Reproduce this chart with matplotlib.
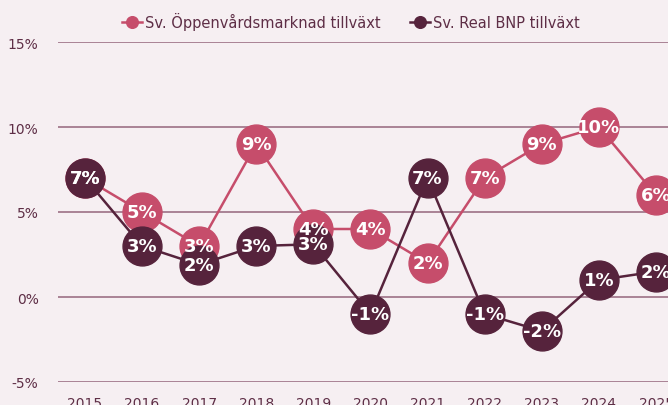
import numpy as np
import matplotlib
matplotlib.use("Agg")
import matplotlib.pyplot as plt

# data
years = [2015, 2016, 2017, 2018, 2019, 2020, 2021, 2022, 2023, 2024, 2025]
oppenvard = [7.0, 5.0, 3.0, 9.0, 4.0, 4.0, 2.0, 7.0, 9.0, 10.0, 6.0]
bnp = [7.0, 3.0, 1.9, 3.0, 3.1, -1.0, 7.0, -1.0, -2.0, 1.0, 1.5]
yticks = [-5, 0, 5, 10, 15]

bg = "#f6eff2"
pink = "#c64d6b"
dark = "#56233c"
grid_c = "#9c7085"
txt_c = "#5e2e46"
narrow = ["Liberation Sans Narrow", "DejaVu Sans"]

fig = plt.figure(figsize=(6.68, 4.06), dpi=100, facecolor=bg)
ax = fig.add_axes([58 / 668, 1 - 383 / 406, 1 - 58 / 668, (383 - 43) / 406])
ax.set_facecolor(bg)

for s in ax.spines.values():
    s.set_visible(False)

ax.set_ylim(-5, 15)
ax.set_xlim(2014.53, 2025.21)
ax.set_yticks(yticks)
ax.set_yticklabels([f"{t}%" for t in yticks], family=narrow)
ax.set_xticks(years)
ax.set_xticklabels([str(y) for y in years], family=narrow)
ax.tick_params(length=0, colors=txt_c, labelsize=10)
ax.tick_params(axis="y", pad=14)
ax.tick_params(axis="x", pad=10)
ax.grid(axis="y", color=grid_c, linewidth=1.2)
ax.set_axisbelow(True)

ms = 28
ax.plot(years, oppenvard, color=pink, lw=1.8, marker="o", ms=ms, zorder=3,
        label="Sv. Öppenvårdsmarknad tillväxt")
ax.plot(years, bnp, color=dark, lw=1.8, marker="o", ms=ms, zorder=4,
        label="Sv. Real BNP tillväxt")

for x, v in zip(years, oppenvard):
    ax.text(x, v, f"{v:.0f}%", color="white", fontsize=13, fontweight="bold",
            family=narrow, ha="center", va="center", zorder=6)
for x, v in zip(years, bnp):
    ax.text(x, v, f"{v:.0f}%", color="white", fontsize=13, fontweight="bold",
            family=narrow, ha="center", va="center", zorder=6)

h, l = ax.get_legend_handles_labels()
leg = fig.legend(h, l, loc="upper center", bbox_to_anchor=(0.525, 1.0), ncol=2,
                 frameon=False, fontsize=10.5, handlelength=1.4, markerscale=0.3,
                 columnspacing=2.0, handletextpad=0.2)
for t in leg.get_texts():
    t.set_color(txt_c)

fig.savefig("out.png", dpi=100, facecolor=bg)
